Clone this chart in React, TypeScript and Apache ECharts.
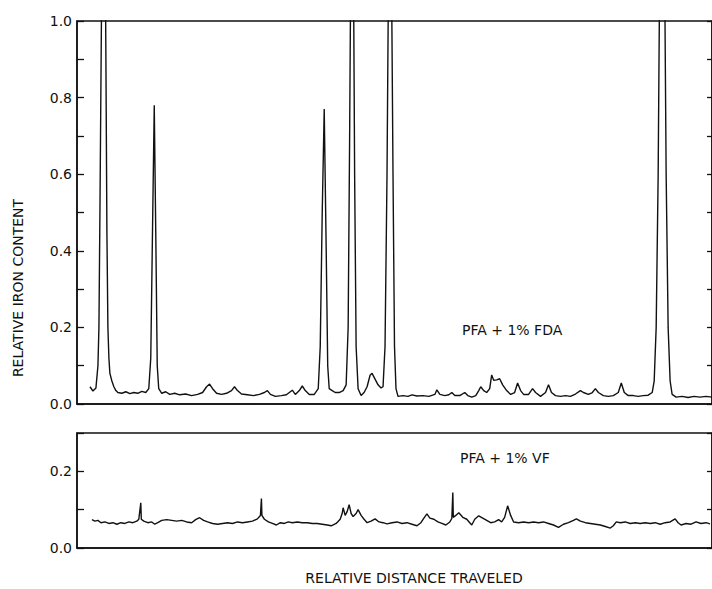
import React, { useEffect, useRef } from "react";
import * as echarts from "echarts";

// Relative distance (arbitrary units, 0..637) and relative iron content, PFA + 1% FDA
const fdaX = [13, 16, 19, 21, 22, 23, 24.5, 25, 28, 29, 30, 31, 32, 33, 35, 37, 39, 41, 45, 49, 53, 57, 61, 65, 69, 72, 74, 76, 77.5, 79, 80.5, 82, 85, 89, 93, 98, 103, 109, 115, 121, 126, 130, 133, 136, 140, 145, 150, 155, 158, 161, 165, 171, 177, 183, 188, 191, 194, 199, 205, 210, 213, 216, 219, 223, 226, 229, 233, 238, 242, 244, 246, 248, 250, 251.5, 253, 256, 259, 263, 267, 270, 272, 273.5, 275, 277, 278.5, 280, 282, 285, 288, 291, 294, 296, 299, 302, 305, 307, 309, 311, 313, 315, 317, 318.5, 320, 322, 327, 332, 336, 341, 347, 353, 359, 361, 364, 369, 373, 376, 379, 384, 389, 392, 396, 400, 403, 405, 408, 411, 414, 416, 418, 421, 424, 427, 431, 435, 439, 442, 445, 448, 453, 457, 460, 465, 470, 473, 476, 480, 485, 490, 495, 500, 505, 508, 513, 517, 520, 523, 528, 533, 538, 543, 546, 549, 553, 558, 563, 568, 573, 577, 579, 581, 583, 585, 589, 591, 593, 595, 597, 601, 607, 613, 619, 625, 631, 637];
const fdaY = [0.045, 0.034, 0.042, 0.1, 0.2, 0.5, 1.0, 1.3, 1.3, 0.9, 0.45, 0.2, 0.12, 0.08, 0.06, 0.045, 0.035, 0.03, 0.028, 0.032, 0.027, 0.03, 0.028, 0.033, 0.03, 0.04, 0.12, 0.5, 0.78, 0.45, 0.1, 0.04, 0.028, 0.032, 0.025, 0.028, 0.024, 0.026, 0.022, 0.025, 0.03, 0.045, 0.052, 0.04, 0.028, 0.025, 0.028, 0.035, 0.045, 0.035, 0.026, 0.024, 0.022, 0.025, 0.03, 0.035, 0.025, 0.02, 0.022, 0.024, 0.03, 0.036, 0.025, 0.035, 0.047, 0.035, 0.025, 0.025, 0.04, 0.15, 0.5, 0.77, 0.4, 0.1, 0.04, 0.035, 0.03, 0.03, 0.035, 0.05, 0.2, 0.7, 1.3, 1.3, 0.6, 0.15, 0.04, 0.022, 0.03, 0.045, 0.075, 0.08, 0.065, 0.05, 0.042, 0.045, 0.15, 0.6, 1.3, 1.3, 0.6, 0.15, 0.04, 0.02, 0.022, 0.02, 0.024, 0.021, 0.022, 0.02, 0.025, 0.037, 0.025, 0.022, 0.024, 0.03, 0.022, 0.022, 0.03, 0.022, 0.018, 0.022, 0.035, 0.045, 0.035, 0.03, 0.04, 0.076, 0.062, 0.063, 0.066, 0.05, 0.035, 0.025, 0.03, 0.055, 0.035, 0.025, 0.025, 0.04, 0.03, 0.02, 0.03, 0.05, 0.03, 0.022, 0.02, 0.022, 0.02, 0.026, 0.035, 0.03, 0.025, 0.03, 0.04, 0.03, 0.022, 0.02, 0.022, 0.03, 0.055, 0.03, 0.022, 0.022, 0.02, 0.022, 0.023, 0.03, 0.06, 0.2, 0.6, 1.3, 1.3, 0.6, 0.2, 0.06, 0.025, 0.018, 0.02, 0.017, 0.02, 0.018, 0.02, 0.018];

// PFA + 1% VF
const vfX = [15, 18, 21, 24, 28, 32, 36, 40, 44, 48, 52, 56, 60, 62, 64, 64.5, 67, 71, 75, 78, 81, 85, 90, 95, 100, 105, 110, 115, 119, 123, 127, 131, 136, 141, 146, 151, 156, 161, 166, 171, 176, 181, 184, 185, 185.5, 188, 192, 196, 200, 204, 208, 212, 216, 221, 226, 231, 236, 241, 246, 251, 255, 260, 264, 266, 267, 269, 271, 273, 275, 277, 280, 282, 285, 288, 291, 295, 299, 303, 307, 311, 316, 321, 326, 331, 336, 341, 345, 348, 351, 354, 358, 362, 366, 370, 374, 376, 377, 377.5, 380, 383, 387, 391, 394, 396, 399, 403, 407, 411, 415, 419, 423, 426, 429, 432, 435, 438, 443, 448, 453, 458, 463, 468, 473, 478, 483, 488, 493, 498, 501, 505, 510, 515, 520, 525, 530, 535, 538, 541, 545, 550, 555, 560, 565, 570, 575, 580, 585, 590, 595, 600, 603, 606, 611, 616, 621, 626, 631, 635];
const vfY = [0.074, 0.07, 0.072, 0.066, 0.068, 0.064, 0.066, 0.062, 0.066, 0.064, 0.068, 0.066, 0.07, 0.075, 0.118, 0.075, 0.07, 0.066, 0.068, 0.062, 0.066, 0.072, 0.074, 0.072, 0.07, 0.072, 0.068, 0.066, 0.074, 0.079, 0.072, 0.068, 0.064, 0.062, 0.064, 0.066, 0.064, 0.068, 0.066, 0.068, 0.07, 0.076, 0.085, 0.129, 0.085, 0.075, 0.068, 0.064, 0.06, 0.066, 0.064, 0.068, 0.066, 0.068, 0.066, 0.066, 0.064, 0.064, 0.062, 0.06, 0.058, 0.064, 0.075, 0.09, 0.105, 0.085, 0.095, 0.113, 0.09, 0.082, 0.09, 0.1, 0.085, 0.075, 0.066, 0.07, 0.076, 0.068, 0.066, 0.063, 0.066, 0.068, 0.064, 0.066, 0.062, 0.058, 0.066, 0.078, 0.089, 0.078, 0.075, 0.068, 0.064, 0.06, 0.068, 0.077, 0.145, 0.08, 0.085, 0.092, 0.08, 0.075, 0.066, 0.06, 0.075, 0.084, 0.078, 0.072, 0.066, 0.068, 0.074, 0.068, 0.08, 0.11, 0.085, 0.068, 0.066, 0.068, 0.066, 0.068, 0.066, 0.068, 0.064, 0.06, 0.054, 0.062, 0.066, 0.072, 0.076, 0.07, 0.066, 0.064, 0.062, 0.06, 0.056, 0.052, 0.058, 0.068, 0.066, 0.068, 0.064, 0.066, 0.064, 0.066, 0.064, 0.066, 0.062, 0.066, 0.068, 0.076, 0.066, 0.06, 0.064, 0.062, 0.068, 0.064, 0.066, 0.063];

const topTicks = ["0.0", "0.2", "0.4", "0.6", "0.8", "1.0"];
const bottomTicks = ["0.0", "0.2"];

const FONT = "DejaVu Sans";
const INK = "#111";

function labelFor(list: string[]) {
  return (v: number) => {
    const s = v.toFixed(1);
    return list.indexOf(s) >= 0 ? s : "";
  };
}

export default function App() {
  const ref = useRef<HTMLDivElement>(null);
  useEffect(() => {
    if (!ref.current) return;
    const chart = echarts.init(ref.current, undefined, { renderer: "svg" });
    const fda = fdaX.map((x, i) => [x, fdaY[i]]);
    const vf = vfX.map((x, i) => [x, vfY[i]]);
    const axisLine = { show: true, lineStyle: { color: INK, width: 1.5 } };
    const tick = { show: true, inside: true, length: 7, lineStyle: { color: INK, width: 1.3 } };
    const yLabel = (list: string[]) => ({
      show: true,
      color: INK,
      fontFamily: FONT,
      fontSize: 14,
      margin: 5,
      formatter: labelFor(list),
    });
    chart.setOption({
      animation: false,
      backgroundColor: "#fff",
      grid: [
        { left: 77, top: 21, width: 637, height: 383, show: true, borderColor: INK, borderWidth: 1.5 },
        { left: 77, top: 433, width: 637, height: 115, show: true, borderColor: INK, borderWidth: 1.5 },
      ],
      xAxis: [
        { type: "value", gridIndex: 0, min: 0, max: 637, axisLine, axisTick: { show: false }, axisLabel: { show: false }, splitLine: { show: false } },
        { type: "value", gridIndex: 1, min: 0, max: 637, axisLine, axisTick: { show: false }, axisLabel: { show: false }, splitLine: { show: false } },
      ],
      yAxis: [
        { type: "value", gridIndex: 0, position: "left", min: 0, max: 1, interval: 0.1, axisLine, axisTick: tick, axisLabel: yLabel(topTicks), splitLine: { show: false } },
        { type: "value", gridIndex: 0, position: "right", min: 0, max: 1, interval: 0.1, axisLine, axisTick: { ...tick, length: 5 }, axisLabel: { show: false }, splitLine: { show: false } },
        { type: "value", gridIndex: 1, position: "left", min: 0, max: 0.3, interval: 0.1, axisLine, axisTick: tick, axisLabel: yLabel(bottomTicks), splitLine: { show: false } },
        { type: "value", gridIndex: 1, position: "right", min: 0, max: 0.3, interval: 0.1, axisLine, axisTick: { ...tick, length: 5 }, axisLabel: { show: false }, splitLine: { show: false } },
      ],
      series: [
        { type: "line", name: "PFA + 1% FDA", xAxisIndex: 0, yAxisIndex: 0, data: fda, showSymbol: false, clip: true, lineStyle: { color: INK, width: 1.4 } },
        { type: "line", name: "PFA + 1% VF", xAxisIndex: 1, yAxisIndex: 2, data: vf, showSymbol: false, clip: true, lineStyle: { color: INK, width: 1.4 } },
      ],
      graphic: [
        { type: "text", x: 462, y: 330, style: { text: "PFA + 1% FDA", fill: INK, font: `14px "${FONT}"`, textAlign: "left", textVerticalAlign: "middle" } },
        { type: "text", x: 460, y: 458, style: { text: "PFA + 1% VF", fill: INK, font: `14px "${FONT}"`, textAlign: "left", textVerticalAlign: "middle" } },
        { type: "text", x: 414, y: 578, style: { text: "RELATIVE DISTANCE TRAVELED", fill: INK, font: `14px "${FONT}"`, textAlign: "center", textVerticalAlign: "middle" } },
        { type: "text", x: 18, y: 288, rotation: Math.PI / 2, style: { text: "RELATIVE IRON CONTENT", fill: INK, font: `14px "${FONT}"`, textAlign: "center", textVerticalAlign: "middle" } },
      ],
    });
    return () => chart.dispose();
  }, []);
  return <div ref={ref} style={{ width: 712, height: 589, position: "absolute", left: 0, top: 0 }} />;
}
